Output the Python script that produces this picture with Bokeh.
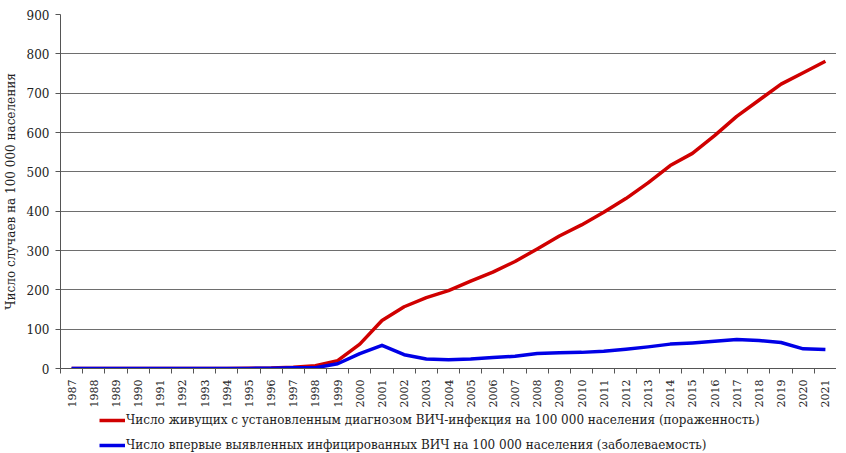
import math
from bokeh.plotting import figure
from bokeh.layouts import column
from bokeh.models import FixedTicker, Legend, LegendItem, Range1d
from bokeh.embed import file_html
from bokeh.resources import INLINE

years = list(range(1987, 2022))
prevalence = [0, 0, 0, 0, 0, 0, 0, 0, 0.5, 1, 3, 7, 20, 62, 122, 157, 180, 198, 222, 245, 272,
              304, 337, 365, 397, 432, 472, 516, 547, 592, 641, 682, 723, 752, 781]
incidence = [0, 0, 0, 0, 0, 0, 0, 0, 0.3, 0.5, 2, 2, 12, 38, 59, 35, 24, 22, 24, 28, 31,
             38, 40, 41, 44, 49, 55, 62, 65, 69, 74, 71, 66, 50, 48]
y_ticks = list(range(0, 1000, 100))
label_prev = "Число живущих с установленным диагнозом ВИЧ-инфекция на 100 000 населения (пораженность)"
label_inc = "Число впервые выявленных инфицированных ВИЧ на 100 000 населения (заболеваемость)"
y_label = "Число случаев на 100 000 населения"

FONT = "DejaVu Serif"
RED = "#d00000"
BLUE = "#0000e6"

p = figure(frame_width=776, frame_height=354, output_backend="svg", toolbar_location=None,
           x_range=Range1d(years[0] - 0.5, years[-1] + 0.5), y_range=Range1d(0, 900),
           min_border_left=54, min_border_right=0, min_border_top=14, min_border_bottom=38)
p.outline_line_color = None
p.background_fill_color = "white"

p.line(years, prevalence, line_color=RED, line_width=3.5, line_join="round")
p.line(years, incidence, line_color=BLUE, line_width=3.5, line_join="round")

# axes
p.xaxis.ticker = FixedTicker(ticks=years, minor_ticks=[y - 0.5 for y in years] + [years[-1] + 0.5])
p.xaxis.major_tick_line_color = None
p.xaxis.minor_tick_line_color = "#555555"
p.xaxis.minor_tick_out = 5
p.xaxis.minor_tick_in = 0
p.xaxis.major_label_orientation = math.pi / 2
p.xaxis.major_label_text_font = FONT
p.xaxis.major_label_text_font_size = "11px"
p.xaxis.major_label_text_color = "#222222"
p.xaxis.major_label_standoff = 5
p.xaxis.axis_line_color = "#555555"

p.yaxis.ticker = FixedTicker(ticks=y_ticks)
p.yaxis.minor_tick_line_color = None
p.yaxis.major_tick_out = 5
p.yaxis.major_tick_in = 0
p.yaxis.major_tick_line_color = "#555555"
p.yaxis.axis_line_color = "#555555"
p.yaxis.major_label_text_font = FONT
p.yaxis.major_label_text_font_size = "12px"
p.yaxis.major_label_text_color = "#222222"
p.yaxis.major_label_standoff = 6
p.yaxis.axis_label = y_label
p.yaxis.axis_label_text_font = FONT
p.yaxis.axis_label_text_font_size = "12px"
p.yaxis.axis_label_text_font_style = "normal"
p.yaxis.axis_label_text_color = "#222222"
p.yaxis.axis_label_standoff = 6

p.xgrid.grid_line_color = None
p.ygrid.grid_line_color = "#6e6e6e"
p.ygrid.grid_line_width = 1
p.ygrid.ticker = FixedTicker(ticks=y_ticks)

# legend strip below the chart (its lines lie outside its own view; only the legend shows)
lp = figure(width=830, height=42, output_backend="svg", toolbar_location=None,
            x_range=Range1d(0, 1), y_range=Range1d(-2, -1),
            min_border=0, x_axis_location=None, y_axis_location=None)
lp.outline_line_color = None
lp.xgrid.grid_line_color = None
lp.ygrid.grid_line_color = None
g1 = lp.line(years, prevalence, line_color=RED, line_width=3.5)
g2 = lp.line(years, incidence, line_color=BLUE, line_width=3.5)

legend = Legend(items=[LegendItem(label=label_prev, renderers=[g1]),
                       LegendItem(label=label_inc, renderers=[g2])],
                location=(39, 0), orientation="vertical")
legend.label_text_font = FONT
legend.label_text_font_size = "12px"
legend.label_text_color = "#222222"
legend.border_line_color = None
legend.background_fill_alpha = 0
legend.glyph_width = 26
legend.glyph_height = 14
legend.label_height = 14
legend.label_standoff = 1
legend.spacing = 11
legend.padding = 0
legend.margin = 0
lp.add_layout(legend, "center")

open("out.html", "w").write(file_html(column(p, lp, spacing=0), INLINE))
